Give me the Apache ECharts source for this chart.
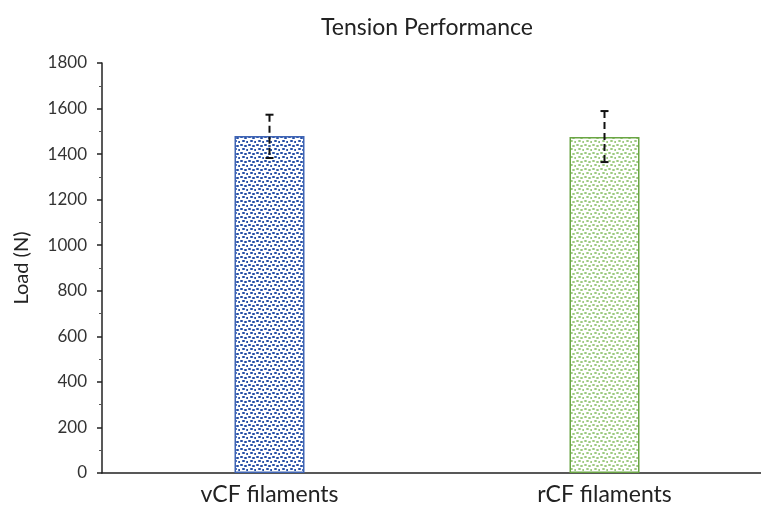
<!DOCTYPE html>
<html><head><meta charset="utf-8">
<script src="https://cdn.jsdelivr.net/npm/echarts@6/dist/echarts.min.js"></script>
<style>html,body{margin:0;padding:0;background:#fff}#c{width:761px;height:512px}</style>
</head><body><div id="c"></div>
<script>
const categories = ['vCF filaments', 'rCF filaments'];
const loads = [1480, 1475];
const errLow = [1383, 1365];
const errHigh = [1573, 1589];
const yTicks = [0, 200, 400, 600, 800, 1000, 1200, 1400, 1600, 1800];

function makePattern(dot, dark) {
  const c = document.createElement('canvas');
  c.width = 8; c.height = 8;
  const g = c.getContext('2d');
  g.fillStyle = '#ffffff';
  g.fillRect(0, 0, 8, 8);
  const pts = [[0, 0], [4, 1], [2, 4], [6, 5]];
  pts.forEach(p => {
    g.fillStyle = dot;
    g.fillRect(p[0], p[1], 3, 2);
    g.fillStyle = dark;
    g.fillRect(p[0] + 1, p[1], 1, 2);
  });
  return c;
}
const blueP = makePattern('#5578c2', '#2a4f9c');
const greenP = makePattern('#bcdca6', '#9dc884');

const font = 'Lato';
const chart = echarts.init(document.getElementById('c'));
chart.setOption({
  animation: false,
  title: {
    text: 'Tension Performance', left: 422, top: 11, textAlign: 'center',
    textStyle: { fontFamily: font, fontSize: 23, fontWeight: 'normal', color: '#222' }
  },
  grid: { left: 102, width: 670, top: 63, bottom: 39, outerBoundsMode: 'none', containLabel: false },
  xAxis: {
    type: 'category', data: categories,
    axisLine: { lineStyle: { color: '#222', width: 1.5 } },
    axisTick: { show: false },
    axisLabel: { fontFamily: font, fontSize: 23, color: '#222', margin: 10 }
  },
  yAxis: {
    type: 'value', min: 0, max: 1800, interval: 200,
    name: 'Load (N)', nameLocation: 'middle', nameGap: 70,
    nameTextStyle: { fontFamily: font, fontSize: 20, color: '#222' },
    axisLine: { show: true, lineStyle: { color: '#222', width: 1.5 } },
    axisTick: { show: true, inside: false, length: 5, lineStyle: { color: '#222', width: 1.5 } },
    minorTick: { show: true, splitNumber: 2, length: 3, lineStyle: { color: '#555', width: 1 } },
    splitLine: { show: false },
    axisLabel: {
      fontFamily: font, fontSize: 17, color: '#333', margin: 15,
      formatter: v => yTicks.includes(v) ? String(v) : ''
    }
  },
  series: [
    {
      type: 'bar', barWidth: 70,
      data: [
        { value: loads[0], itemStyle: { color: { image: blueP, repeat: 'repeat' }, borderColor: '#3f64b4', borderWidth: 1.5 } },
        { value: loads[1], itemStyle: { color: { image: greenP, repeat: 'repeat' }, borderColor: '#6aa544', borderWidth: 1.5 } }
      ]
    },
    {
      type: 'custom',
      data: categories.map((c, i) => [i, errLow[i], errHigh[i]]),
      renderItem: function (params, api) {
        const x = api.value(0);
        const lo = api.coord([x, api.value(1)]);
        const hi = api.coord([x, api.value(2)]);
        const cap = 4;
        const st = { stroke: '#111', lineWidth: 2, lineDash: [7, 4] };
        return {
          type: 'group',
          children: [
            { type: 'line', shape: { x1: hi[0], y1: hi[1], x2: lo[0], y2: lo[1] }, style: st },
            { type: 'line', shape: { x1: hi[0] - cap, y1: hi[1], x2: hi[0] + cap, y2: hi[1] }, style: { stroke: '#111', lineWidth: 2 } },
            { type: 'line', shape: { x1: lo[0] - cap, y1: lo[1], x2: lo[0] + cap, y2: lo[1] }, style: { stroke: '#111', lineWidth: 2 } }
          ]
        };
      },
      z: 10
    }
  ]
});
</script></body></html>
